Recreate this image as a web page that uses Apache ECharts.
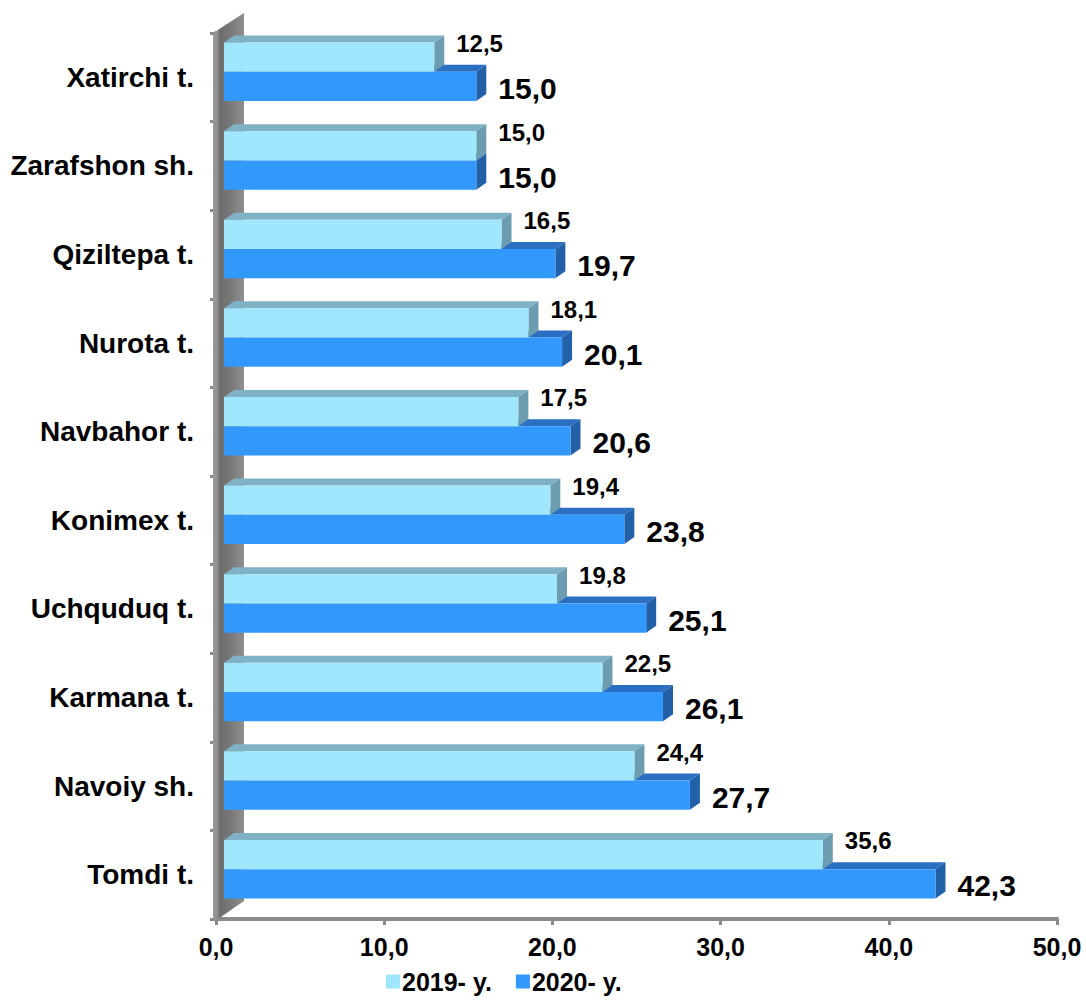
<!DOCTYPE html>
<html>
<head>
<meta charset="utf-8">
<script src="https://cdn.jsdelivr.net/npm/echarts@6/dist/echarts.min.js"></script>
<style>
html,body{margin:0;padding:0;background:#fff;}
#chart{width:1086px;height:1002px;}
</style>
</head>
<body>
<div id="chart"></div>
<script>
const categories = ['Xatirchi t.','Zarafshon sh.','Qiziltepa t.','Nurota t.','Navbahor t.','Konimex t.','Uchquduq t.','Karmana t.','Navoiy sh.','Tomdi t.'];
const values2019 = [12.5,15.0,16.5,18.1,17.5,19.4,19.8,22.5,24.4,35.6];
const values2020 = [15.0,15.0,19.7,20.1,20.6,23.8,25.1,26.1,27.7,42.3];
const seriesNames = ['2019- y.','2020- y.'];
const xMin = 0, xMax = 50, xStep = 10;

const FONT = '"Liberation Sans", Arial, Helvetica, sans-serif';
const fmt = v => Number(v).toFixed(1).replace('.', ',');

const palette = [
  {front:'#a0e6fc', top:'#80b2c5', side:'#6c9caf'},
  {front:'#3398fc', top:'#2a6fc2', side:'#2260a8'}
];

function make3dRender(which){
  return function(params, api){
    const idx = api.value(0), v = api.value(1);
    const p0 = api.coord([0, idx]);
    const p1 = api.coord([v, idx]);
    const band = api.size([0, 1])[1];
    const h = band * 0.33;
    const yc = p0[1] - band * 0.062;
    const shift = 8, dx = 10, dy = 7;
    const x0 = p0[0] + shift, x1 = p1[0] + shift;
    const top = which === 0 ? yc - h : yc;
    const c = palette[which];
    const children = [
      {type:'polygon', shape:{points:[[x0,top],[x0+dx,top-dy],[x1+dx,top-dy],[x1,top]]}, style:{fill:c.top}},
      {type:'polygon', shape:{points:[[x1,top],[x1+dx,top-dy],[x1+dx,top+h-dy],[x1,top+h]]}, style:{fill:c.side}},
      {type:'rect', shape:{x:x0, y:top, width:x1-x0, height:h}, style:{fill:c.front}},
      {type:'text', style:{
        text: fmt(v),
        x: x1 + dx + 12,
        y: which === 0 ? top + 1 : top + h/2 + 2,
        textVerticalAlign:'middle', verticalAlign:'middle', align:'left',
        fill:'#000', font: 'bold ' + (which === 0 ? 24 : 30) + 'px ' + FONT
      }}
    ];
    return {type:'group', children};
  };
}

function wallRender(params, api){
  const cs = params.coordSys;
  const L = cs.x - 3, T = cs.y, B = cs.y + cs.height;
  return {
    type:'polygon',
    shape:{points:[[L, T],[L+31, T-20],[L+31, B-18],[L+5, B],[L, B]]},
    style:{fill:{type:'linear', x:0, y:0, x2:1, y2:0, colorStops:[
      {offset:0, color:'#9a9a9a'},{offset:0.16, color:'#8d8d8d'},{offset:0.22, color:'#6c6c6c'},
      {offset:0.6, color:'#7a7a7a'},{offset:1, color:'#8f8f8f'}]}}
  };
}

const chart = echarts.init(document.getElementById('chart'), null, {renderer:'svg'});
chart.setOption({
  backgroundColor:'#fff',
  animation:false,
  grid:{left:216, right:29, top:33, bottom:83},
  legend:{
    data:[{name:seriesNames[0], icon:'rect'},{name:seriesNames[1], icon:'rect'}],
    top:964, left:381, itemWidth:14, itemHeight:14, itemGap:24,
    textStyle:{fontSize:25, fontWeight:'bold', color:'#000', fontFamily:FONT, padding:[0,0,0,-3]}
  },
  xAxis:{
    type:'value', min:xMin, max:xMax, interval:xStep,
    axisLine:{show:true, lineStyle:{color:'#8a8a8a', width:4}},
    axisTick:{show:true, length:6, lineStyle:{color:'#8a8a8a', width:3}},
    splitLine:{show:false},
    axisLabel:{formatter:fmt, fontSize:25, fontWeight:'bold', color:'#000', fontFamily:FONT, margin:15}
  },
  yAxis:{
    type:'category', inverse:true, data:categories,
    axisLine:{show:true, lineStyle:{color:'#8a8a8a', width:4}},
    axisTick:{show:true, length:6, lineStyle:{color:'#8a8a8a', width:3}},
    axisLabel:{fontSize:28, fontWeight:'bold', color:'#000', fontFamily:FONT, margin:22}
  },
  series:[
    {type:'custom', name:'wall', renderItem:wallRender, data:[[0,0]], z:1, silent:true, encode:{x:0,y:1}},
    {type:'custom', name:seriesNames[1], itemStyle:{color:palette[1].front}, renderItem:make3dRender(1),
      data:values2020.map((v,i)=>[i,v]), encode:{x:1, y:0}, z:3},
    {type:'custom', name:seriesNames[0], itemStyle:{color:palette[0].front}, renderItem:make3dRender(0),
      data:values2019.map((v,i)=>[i,v]), encode:{x:1, y:0}, z:4}
  ]
});
</script>
</body>
</html>
